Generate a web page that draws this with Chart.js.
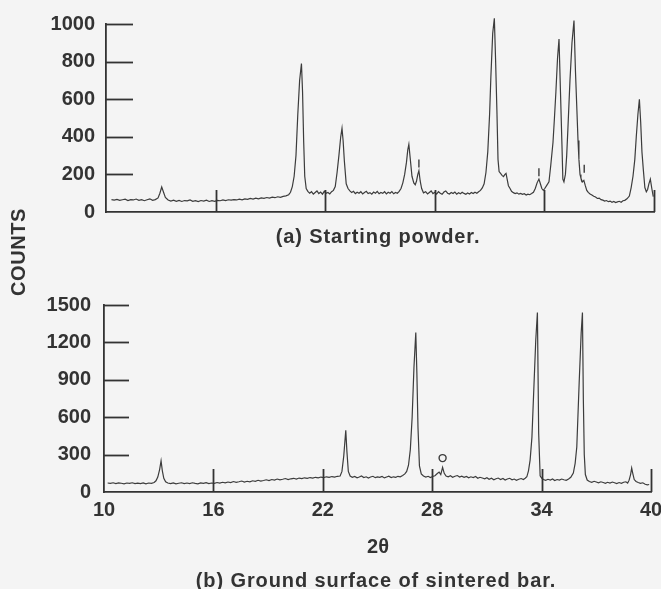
<!DOCTYPE html>
<html>
<head>
<meta charset="utf-8">
<script src="https://cdn.jsdelivr.net/npm/chart.js@4/dist/chart.umd.min.js"></script>
<style>
  html, body { margin:0; padding:0; background:#f4f4f4; }
  body { width:661px; height:589px; position:relative; overflow:hidden; font-family:"Liberation Sans", Arial, sans-serif; color:#333; }
  .cv { position:absolute; left:0; }
  .txt { position:absolute; text-align:center; font-weight:bold; white-space:nowrap; }
</style>
</head>
<body>
<canvas id="cA" class="cv" width="661" height="250" style="top:0;width:661px;height:250px"></canvas>
<canvas id="cB" class="cv" width="661" height="309" style="top:280px;width:661px;height:309px"></canvas>
<div class="txt" style="left:128px;width:500px;top:224px;font-size:20px;line-height:24px;letter-spacing:0.9px;">(a) Starting powder.</div>
<div class="txt" style="left:126px;width:500px;top:568px;font-size:20px;line-height:24px;letter-spacing:0.9px;">(b) Ground surface of sintered bar.</div>
<div class="txt" style="left:278px;width:200px;top:534px;font-size:20px;line-height:24px;">2θ</div>
<div class="txt" style="left:-42px;width:120px;top:240px;font-size:20px;line-height:24px;letter-spacing:0.6px;transform:rotate(-90deg);">COUNTS</div>
<script>
// ---------- data ----------
const xTicks = [10, 16, 22, 28, 34, 40];
const yTicksA = [0, 200, 400, 600, 800, 1000];
const yTicksB = [0, 300, 600, 900, 1200, 1500];

// (a) Starting powder
const thetaA = [10.3,10.45,10.6,10.75,10.9,11.05,11.2,11.35,11.5,11.65,11.8,11.95,12.1,12.25,12.4,12.55,12.7,12.85,12.95,13.05,13.15,13.25,13.4,13.55,13.7,13.85,14.0,14.15,14.3,14.45,14.6,14.75,14.9,15.05,15.2,15.35,15.5,15.65,15.8,15.95,16.1,16.25,16.4,16.55,16.7,16.85,17.0,17.15,17.3,17.45,17.6,17.75,17.9,18.05,18.2,18.35,18.5,18.65,18.8,18.95,19.1,19.25,19.4,19.55,19.7,19.85,20.0,20.1,20.2,20.3,20.4,20.5,20.6,20.7,20.76,20.82,20.88,20.96,21.05,21.15,21.25,21.35,21.45,21.55,21.65,21.75,21.85,21.95,22.05,22.15,22.25,22.35,22.45,22.55,22.65,22.75,22.85,22.92,22.98,23.05,23.15,23.25,23.35,23.45,23.55,23.65,23.75,23.85,23.95,24.05,24.15,24.25,24.35,24.45,24.55,24.65,24.75,24.85,24.95,25.05,25.15,25.25,25.35,25.45,25.55,25.65,25.75,25.85,25.95,26.05,26.15,26.25,26.35,26.45,26.52,26.58,26.65,26.75,26.85,26.93,27.0,27.07,27.13,27.2,27.28,27.38,27.5,27.6,27.7,27.8,27.9,28.0,28.1,28.2,28.3,28.4,28.5,28.6,28.7,28.8,28.9,29.0,29.1,29.2,29.3,29.4,29.5,29.6,29.7,29.8,29.9,30.0,30.1,30.2,30.3,30.4,30.5,30.6,30.7,30.8,30.9,31.0,31.07,31.17,31.26,31.33,31.4,31.46,31.52,31.6,31.68,31.76,31.84,31.9,31.96,32.03,32.12,32.2,32.3,32.4,32.5,32.6,32.7,32.8,32.9,33.0,33.1,33.2,33.3,33.4,33.5,33.6,33.7,33.78,33.86,33.94,34.02,34.12,34.25,34.35,34.47,34.55,34.63,34.72,34.8,34.88,34.96,35.01,35.07,35.15,35.22,35.29,35.4,35.51,35.62,35.7,35.78,35.84,35.89,35.95,36.0,36.08,36.16,36.24,36.32,36.4,36.5,36.6,36.7,36.8,36.9,37.0,37.1,37.2,37.3,37.4,37.5,37.6,37.7,37.8,37.9,38.0,38.1,38.2,38.3,38.4,38.52,38.65,38.75,38.85,38.95,39.03,39.12,39.2,39.27,39.34,39.42,39.5,39.58,39.65,39.72,39.8,39.88,39.96];
const countsA = [66,63,67,62,65,68,61,66,64,69,62,66,60,65,70,62,66,75,100,133,105,78,64,58,63,57,62,56,61,59,64,57,60,55,61,58,63,56,60,57,62,60,64,61,65,63,66,64,68,65,70,67,72,69,74,70,75,73,77,74,79,76,81,78,83,86,92,105,135,190,300,520,700,790,640,380,190,125,110,100,108,95,104,112,98,106,95,110,100,104,96,108,115,135,210,300,400,445,380,270,150,125,112,104,110,98,105,100,108,96,104,110,98,103,95,106,100,110,97,104,99,108,96,105,100,109,97,104,100,110,125,155,200,265,330,360,290,190,155,145,165,200,220,165,125,102,108,96,104,112,98,105,95,108,100,94,106,112,100,96,104,98,106,95,102,97,105,99,94,101,96,104,98,105,100,108,115,128,150,210,320,520,720,950,1030,800,540,280,215,205,195,188,200,205,175,140,125,110,103,98,102,95,99,94,97,90,95,92,98,105,125,155,175,150,125,115,125,140,160,250,370,500,640,820,920,640,360,175,160,200,300,450,700,900,1018,750,540,380,280,200,180,160,168,140,115,104,96,90,84,80,72,74,66,63,58,61,55,58,52,56,50,54,57,52,60,62,70,85,130,190,280,400,520,600,480,320,220,130,108,120,150,175,125,82,78];
// short vertical marks above minor peaks in (a)
const markThetaA = [27.13, 33.70, 36.18];
const markCountsA = [258, 212, 230];

// (b) Ground surface of sintered bar
const thetaB = [10.2,10.35,10.5,10.65,10.8,10.95,11.1,11.25,11.4,11.55,11.7,11.85,12.0,12.15,12.3,12.45,12.6,12.75,12.85,12.95,13.05,13.13,13.2,13.28,13.38,13.5,13.65,13.8,13.95,14.1,14.25,14.4,14.55,14.7,14.85,15.0,15.15,15.3,15.45,15.6,15.75,15.9,16.05,16.2,16.35,16.5,16.65,16.8,16.95,17.1,17.25,17.4,17.55,17.7,17.85,18.0,18.15,18.3,18.45,18.6,18.75,18.9,19.05,19.2,19.35,19.5,19.65,19.8,19.95,20.1,20.25,20.4,20.55,20.7,20.85,21.0,21.15,21.3,21.45,21.6,21.75,21.9,22.05,22.2,22.35,22.5,22.65,22.8,22.95,23.05,23.15,23.26,23.32,23.4,23.5,23.62,23.75,23.88,24.0,24.12,24.25,24.38,24.5,24.62,24.75,24.88,25.0,25.12,25.25,25.38,25.5,25.62,25.75,25.88,26.0,26.12,26.25,26.38,26.5,26.6,26.7,26.8,26.9,27.0,27.1,27.16,27.22,27.3,27.4,27.52,27.65,27.78,27.9,28.02,28.15,28.28,28.38,28.47,28.57,28.66,28.76,28.88,29.0,29.12,29.25,29.38,29.5,29.62,29.75,29.88,30.0,30.12,30.25,30.38,30.5,30.62,30.75,30.88,31.0,31.12,31.25,31.38,31.5,31.62,31.75,31.88,32.0,32.12,32.25,32.38,32.5,32.62,32.75,32.88,33.0,33.1,33.19,33.28,33.37,33.47,33.55,33.68,33.77,33.84,33.92,34.0,34.1,34.22,34.35,34.48,34.6,34.72,34.85,34.98,35.1,35.22,35.35,35.48,35.6,35.74,35.84,35.93,36.06,36.17,36.24,36.29,36.34,36.4,36.5,36.62,36.75,36.88,37.0,37.12,37.25,37.38,37.5,37.62,37.75,37.88,38.0,38.12,38.25,38.38,38.5,38.62,38.72,38.8,38.88,38.94,39.0,39.08,39.18,39.3,39.42,39.55,39.68,39.8,39.9];
const countsB = [72,70,74,68,73,70,66,72,69,74,67,71,68,73,66,72,70,76,90,120,180,250,170,110,82,72,67,73,66,70,74,67,72,68,74,69,66,73,70,75,68,72,70,76,72,78,74,80,76,84,78,82,88,80,86,82,90,86,94,88,92,98,92,100,96,104,98,102,108,100,106,110,104,112,108,114,110,116,112,118,114,120,116,122,118,124,120,126,128,165,290,495,330,165,128,118,125,114,120,128,116,122,112,120,126,115,121,117,125,113,120,127,116,122,118,126,122,132,145,165,215,340,600,1000,1280,950,520,210,145,128,120,126,116,124,130,148,160,140,198,150,128,122,130,118,126,132,120,127,118,125,114,122,116,124,110,118,112,106,114,102,110,98,106,112,100,108,96,104,110,98,104,94,102,108,100,110,122,170,256,440,740,1220,1440,470,130,112,100,94,102,96,104,92,100,96,104,98,94,104,118,152,230,361,874,1275,1440,738,300,140,96,84,78,86,80,74,82,76,70,78,72,80,74,68,76,70,78,82,72,95,140,192,150,100,84,76,70,74,62,58,60];
// small open mark above the minor peak near 28.6 in (b)
const markThetaB = [28.57];
const markCountsB = [272];

// ---------- helpers ----------
const zip = (xs, ys) => xs.map((x, i) => ({ x: x, y: ys[i] }));
const INK = '#333333';
const FONT = '"Liberation Sans", Arial, sans-serif';

const inwardTicks = {
  id: 'inwardTicks',
  afterDatasetsDraw(chart, args, opts) {
    const { ctx, chartArea: a, scales } = chart;
    const x = scales.x, y = scales.y;
    ctx.save();
    ctx.strokeStyle = INK;
    ctx.lineWidth = 1.8;
    opts.yVals.forEach(v => {
      if (v === 0) return;
      const py = Math.round(y.getPixelForValue(v)) + 0.5;
      ctx.beginPath(); ctx.moveTo(a.left, py); ctx.lineTo(a.left + opts.yLen, py); ctx.stroke();
    });
    opts.xVals.forEach(v => {
      if (v === 10) return;
      const px = Math.round(x.getPixelForValue(v)) + 0.5;
      ctx.beginPath(); ctx.moveTo(px, a.bottom); ctx.lineTo(px, a.bottom - opts.xLen); ctx.stroke();
    });
    ctx.restore();
  }
};

function makeChart(id, theta, counts, mTheta, mCounts, markStyle, yTicks, yMax, cfg) {
  return new Chart(document.getElementById(id), {
    type: 'line',
    data: {
      datasets: [
        { data: zip(theta, counts), borderColor: '#3c3c3c', borderWidth: 1.2, pointRadius: 0, tension: 0, fill: false, clip: false },
        { data: zip(mTheta, mCounts), showLine: false, pointStyle: markStyle.style, rotation: markStyle.rotation,
          pointRadius: markStyle.radius, borderColor: '#3c3c3c', borderWidth: 1.4, backgroundColor: 'rgba(0,0,0,0)', clip: false }
      ]
    },
    options: {
      responsive: false,
      animation: false,
      events: [],
      layout: { padding: { left: 0, right: cfg.padRight, top: cfg.padTop, bottom: 0 } },
      plugins: {
        legend: { display: false },
        tooltip: { enabled: false },
        inwardTicks: { yVals: yTicks, xVals: xTicks, yLen: cfg.yLen, xLen: cfg.xLen }
      },
      scales: {
        x: {
          type: 'linear', min: 10, max: 40,
          afterBuildTicks: s => { s.ticks = xTicks.map(v => ({ value: v })); },
          ticks: { display: cfg.showX, color: INK, padding: 6, maxRotation: 0, callback: v => String(v),
                   font: { family: FONT, size: 20, weight: 'bold' } },
          grid: { display: false, drawTicks: false },
          border: { display: true, color: INK, width: 1.8 },
          afterFit: s => { s.height = cfg.xHeight; s.paddingLeft = 0; s.paddingRight = 0; }
        },
        y: {
          min: 0, max: yMax,
          afterBuildTicks: s => { s.ticks = yTicks.map(v => ({ value: v })); },
          ticks: { color: INK, padding: cfg.yPad, callback: v => String(v),
                   font: { family: FONT, size: 20, weight: 'bold' } },
          grid: { display: false, drawTicks: false },
          border: { display: true, color: INK, width: 1.8 },
          afterFit: s => { s.width = cfg.yWidth; }
        }
      }
    },
    plugins: [inwardTicks]
  });
}

makeChart('cA', thetaA, countsA, markThetaA, markCountsA,
  { style: 'line', rotation: 90, radius: 4 }, yTicksA, 1000,
  { padRight: 7, padTop: 24, xHeight: 38, yWidth: 106, yPad: 11, yLen: 27, xLen: 22, showX: false });

makeChart('cB', thetaB, countsB, markThetaB, markCountsB,
  { style: 'circle', rotation: 0, radius: 3.5 }, yTicksB, 1500,
  { padRight: 10, padTop: 25, xHeight: 97, yWidth: 104, yPad: 13, yLen: 25, xLen: 23, showX: true });
</script>
</body>
</html>
